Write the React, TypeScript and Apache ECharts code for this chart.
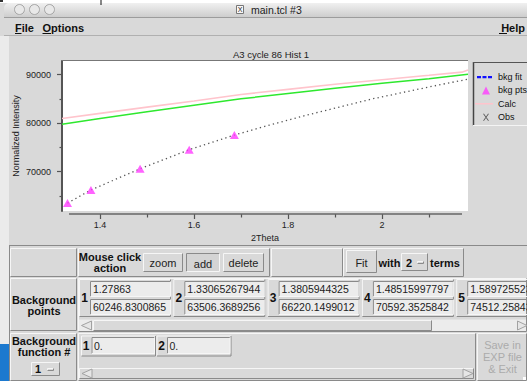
import React, { useEffect, useRef } from "react";
import * as echarts from "echarts";

const FONT = '"Liberation Sans", Helvetica, Arial, sans-serif';

// ---- chart data ----
const bkgPtsX = [1.27863, 1.33065267944, 1.3805944325, 1.48515997797, 1.589725523, 1.6858];
const bkgPtsY = [60246.8300865, 63506.3689256, 66220.1499012, 70592.3525842, 74512.25843, 77530];
const bkgFitX = [1.3307, 1.3806, 1.4852, 1.5897, 1.6858, 1.76, 1.84, 1.98, 2.12, 2.183];
const bkgFitY = [63506, 66220, 70592, 74512, 77530, 79580, 81650, 85000, 87850, 89050];
const obsX = [1.319, 1.4, 1.5, 1.6, 1.7, 1.8, 1.9, 2.0, 2.1, 2.183];
const obsY = [79770, 80950, 82350, 83700, 85000, 86100, 87200, 88200, 89150, 90050];
const calcX = [1.319, 1.4, 1.5, 1.6, 1.7, 1.8, 1.9, 2.0, 2.1, 2.17, 2.183];
const calcY = [80950, 82000, 83300, 84550, 85900, 86950, 88000, 88950, 89850, 90500, 90950];

const xMajorTicks = [1.4, 1.6, 1.8, 2.0];
const xMinorTicks = [1.5, 1.7, 1.9, 2.1];
const yMajorTicks = [70000, 80000, 90000];
const yMinorTicks = [65000, 75000, 85000];
const X_MIN = 1.319;
const X_MAX = 2.183;
const Y_MIN = 61880;
const Y_MAX = 92800;

const legendNames = ["bkg fit", "bkg pts", "Calc", "Obs"];
const bkgTermValues = ["0.", "0."];
const actionButtons = ["zoom", "add", "delete"];

// ---- GUI helpers ----
const BG = "#d9d9d9";
const LIGHT = "#f6f6f6";
const DARK = "#8a8a8a";
const ENTRY = "#ececec";

function rect(x: number, y: number, w: number, h: number, fill: any, extra: any = {}) {
  return { type: "rect", shape: { x, y, width: w, height: h, ...(extra.r ? { r: extra.r } : {}) }, style: { fill, ...(extra.stroke ? { stroke: extra.stroke, lineWidth: 1 } : {}) }, z: 10, silent: true };
}
function line(x1: number, y1: number, x2: number, y2: number, stroke: string, w = 1) {
  return { type: "line", shape: { x1, y1, x2, y2 }, style: { stroke, lineWidth: w }, z: 11, silent: true };
}
function box(x: number, y: number, w: number, h: number, kind: "raised" | "sunken", fill = BG) {
  const tl = kind === "raised" ? LIGHT : DARK;
  const br = kind === "raised" ? DARK : LIGHT;
  return [
    rect(x, y, w, h, fill),
    line(x + 0.5, y + 0.5, x + w - 0.5, y + 0.5, tl),
    line(x + 0.5, y + 0.5, x + 0.5, y + h - 0.5, tl),
    line(x + 0.5, y + h - 0.5, x + w - 0.5, y + h - 0.5, br),
    line(x + w - 0.5, y + 0.5, x + w - 0.5, y + h - 0.5, br),
  ];
}
function label(x: number, y: number, s: string, o: { size?: number; bold?: boolean; color?: string; align?: string } = {}) {
  const align = o.align || "left";
  return {
    type: "text",
    x,
    y,
    z: 12,
    silent: true,
    style: {
      text: s,
      fill: o.color || "#111",
      fontSize: o.size || 11,
      fontWeight: o.bold ? "bold" : "normal",
      fontFamily: FONT,
      align,
      textAlign: align,
      verticalAlign: "middle",
      textVerticalAlign: "middle",
    },
  };
}
function tri(points: number[][]) {
  return { type: "polygon", shape: { points }, style: { fill: "#e6e6e6", stroke: "#a2a2a2", lineWidth: 1 }, z: 12, silent: true };
}

function buildGui() {
  const g: any[] = [];
  // desktop / window chrome
  g.push(rect(0, 0, 527, 3, "#ffffff"));
  g.push(rect(0, 0, 3, 2, "#333333"));
  g.push(line(101, 0, 101, 5, "#111"));
  g.push(rect(0, 36, 9, 308, "#ebebeb"));
  g.push(rect(0, 344, 9, 37, "#1c79cf"));
  g.push(
    rect(4, 3, 523, 14, new echarts.graphic.LinearGradient(0, 0, 0, 1, [
      { offset: 0, color: "#f0f0f0" },
      { offset: 1, color: "#cdcdcd" },
    ]), { r: [5, 0, 0, 0] })
  );
  g.push(line(4, 17.5, 527, 17.5, "#9c9c9c"));
  [19.5, 34.5, 49.5].forEach((cx) =>
    g.push({ type: "circle", shape: { cx, cy: 9.5, r: 5 }, style: { fill: "#e8e8e8", stroke: "#a6a6a6", lineWidth: 1 }, z: 12, silent: true })
  );
  g.push(rect(236.5, 5.5, 7, 8, "#f8f8f8", { stroke: "#777" }));
  g.push(label(240, 9.8, "X", { size: 7, align: "center", color: "#222" }));
  g.push(label(251, 9.5, "main.tcl #3", { size: 10.5, color: "#222" }));
  // menu bar
  g.push(rect(4, 18, 523, 18, BG));
  g.push(line(4, 35.5, 527, 35.5, "#b0b0b0"));
  g.push(label(15, 27.5, "File", { bold: true }));
  g.push(line(15, 33.5, 21.5, 33.5, "#111"));
  g.push(label(42.5, 27.5, "Options", { bold: true }));
  g.push(line(42.5, 33.5, 51, 33.5, "#111"));
  g.push(label(525, 27.5, "Help", { bold: true, align: "right" }));
  g.push(line(499, 33.5, 507, 33.5, "#111"));

  // plot widget borders
  g.push(line(62, 60.5, 468, 60.5, "#777"));
  g.push(line(69, 214, 462, 214, "#666", 1.5));
  // legend box
  g.push(line(473.5, 62, 473.5, 125.5, "#444", 1.5));
  g.push(line(473, 62.5, 527, 62.5, "#555"));
  g.push(line(473, 125.5, 527, 125.5, "#f4f4f4"));

  // bottom panel
  g.push(line(9, 245.5, 527, 245.5, DARK));
  g.push(line(9.5, 245, 9.5, 381, DARK));
  // row 1
  g.push(...box(10, 248, 67, 29, "raised"));
  g.push(...box(78, 248, 192, 29, "raised"));
  g.push(label(110, 257.3, "Mouse click", { bold: true, align: "center" }));
  g.push(label(110, 268.3, "action", { bold: true, align: "center" }));
  const btn = [
    { x: 143, w: 40 },
    { x: 186, w: 34 },
    { x: 223, w: 41 },
  ];
  actionButtons.forEach((t, i) => {
    const pressed = t === "add";
    g.push(...box(btn[i].x, 253, btn[i].w, 19, pressed ? "sunken" : "raised", pressed ? "#d4d4d4" : BG));
    g.push(label(btn[i].x + btn[i].w / 2, pressed ? 264 : 262.7, t, { align: "center", color: "#222" }));
  });
  g.push(...box(271, 248, 72, 29, "raised"));
  g.push(...box(343, 248, 121, 29, "raised"));
  g.push(...box(346, 250, 31, 23, "raised"));
  g.push(label(361.5, 262.5, "Fit", { align: "center", color: "#222" }));
  g.push(label(378.5, 262.5, "with", { bold: true }));
  g.push(...box(401, 253, 27, 18, "raised"));
  g.push(label(409, 262.5, "2", { bold: true, align: "center" }));
  g.push(...box(417, 261, 7, 3, "raised"));
  g.push(label(430, 262.5, "terms", { bold: true }));

  // row 2: background points
  g.push(...box(10, 278, 67, 53, "raised"));
  g.push(label(44, 299.5, "Background", { bold: true, align: "center" }));
  g.push(label(44, 310.7, "points", { bold: true, align: "center" }));
  g.push(...box(78, 278, 449, 54, "raised"));
  for (let i = 1; i < bkgPtsX.length; i++) {
    const s = 79 + (i - 1) * 94.3;
    g.push(...box(s, 279, 92, 38, "raised"));
    g.push(label(s + 5.5, 298, String(i), { bold: true, align: "center", size: 12 }));
    g.push(...box(s + 11, 281, 81, 16, "sunken", ENTRY));
    g.push(label(s + 14, 289.3, String(bkgPtsX[i - 1]), { size: 10.5, color: "#222" }));
    g.push(...box(s + 11, 299, 81, 16, "sunken", ENTRY));
    g.push(label(s + 14, 307.3, String(bkgPtsY[i - 1]), { size: 10.5, color: "#222" }));
  }
  g.push(rect(79, 319.5, 448, 12, "#ececec"));
  g.push(...box(93, 320, 339, 11, "raised"));
  g.push(tri([[91.5, 321], [91.5, 330], [81.5, 325.5]]));
  g.push(tri([[517.5, 321], [517.5, 330], [527, 325.5]]));

  // row 3: background function
  g.push(...box(10, 333, 67, 48, "raised"));
  g.push(label(44, 341, "Background", { bold: true, align: "center" }));
  g.push(label(44, 352.3, "function #", { bold: true, align: "center" }));
  g.push(...box(31, 362, 29, 14, "raised"));
  g.push(label(38, 369, "1", { bold: true, align: "center" }));
  g.push(...box(47, 368, 7, 3, "raised"));
  g.push(...box(78, 333, 398, 48, "raised"));
  bkgTermValues.forEach((v, i) => {
    const s = 81 + i * 75.5;
    g.push(...box(s, 335.5, 75, 21, "raised"));
    g.push(label(s + 5, 345.5, String(i + 1), { bold: true, align: "center", size: 12 }));
    g.push(...box(s + 10.5, 337, 63.5, 17, "sunken", ENTRY));
    g.push(label(s + 13, 345.5, v, { size: 10.5, color: "#222" }));
  });
  g.push(...box(79, 368, 395, 11, "raised"));
  g.push(tri([[92, 369], [92, 378], [82, 373.5]]));
  g.push(tri([[463, 369], [463, 378], [473, 373.5]]));
  g.push(...box(477, 333, 50, 48, "raised"));
  g.push(label(502.5, 345, "Save in", { align: "center", color: "#ababab" }));
  g.push(label(502.5, 357, "EXP file", { align: "center", color: "#ababab" }));
  g.push(label(502.5, 369.3, "& Exit", { align: "center", color: "#ababab" }));
  g.push(rect(523, 377, 4, 4, "#ffffff"));
  return g;
}

const pair = (xs: number[], ys: number[]) => xs.map((x, i) => [x, ys[i]]);

const BOX = "M0,0h0.01v0.01h-0.01zM17.99,9.99h0.01v0.01h-0.01z";
const legendIcons: Record<string, { icon: string; color: string }> = {
  "bkg fit": { icon: "path://" + BOX + "M2,4h4v2.2h-4zM7.5,4h4v2.2h-4zM13,4h4v2.2h-4z", color: "#1010ff" },
  "bkg pts": { icon: "path://" + BOX + "M11,1L15,9H7Z", color: "#ff3cff" },
  Calc: { icon: "path://" + BOX + "M0,4.2h18v1.6h-18z", color: "#ffc4cc" },
  Obs: { icon: "path://" + BOX + "M8,1.5L9,1.5L14,8.5L13,8.5ZM13,1.5L14,1.5L9,8.5L8,8.5Z", color: "#555555" },
};

const axisLabelStyle = { fontSize: 9, color: "#222", fontFamily: FONT };
const plain = (v: number) => String(v);

export default function App() {
  const ref = useRef<HTMLDivElement>(null);
  useEffect(() => {
    if (!ref.current) return;
    const chart = echarts.init(ref.current, undefined, { renderer: "svg" });
    const xBase = { type: "value", min: X_MIN, max: X_MAX, position: "bottom", offset: 3, axisLine: { show: false }, splitLine: { show: false } };
    const yBase = { type: "value", min: Y_MIN, max: Y_MAX, position: "left", splitLine: { show: false } };
    chart.setOption({
      animation: false,
      backgroundColor: BG,
      title: {
        text: "A3 cycle 86 Hist 1",
        left: 228,
        top: 44,
        textStyle: { fontSize: 9.5, fontWeight: "normal", color: "#222", fontFamily: FONT },
      },
      grid: { left: 62, top: 61, width: 406, height: 150, show: true, backgroundColor: "#ffffff", borderWidth: 0, containLabel: false, outerBoundsMode: "none" },
      legend: {
        orient: "vertical",
        left: 470,
        top: 67,
        itemWidth: 18,
        itemHeight: 10,
        itemGap: 3.4,
        selectedMode: false,
        itemStyle: { borderWidth: 0 },
        textStyle: { fontSize: 9, color: "#111", fontFamily: FONT },
        data: legendNames.map((n) => ({ name: n, icon: legendIcons[n].icon, itemStyle: { color: legendIcons[n].color, borderWidth: 0 } })),
      },
      xAxis: [
        {
          ...xBase,
          name: "2Theta",
          nameLocation: "middle",
          nameGap: 19,
          nameTextStyle: axisLabelStyle,
          axisTick: { show: true, length: 5, customValues: xMajorTicks, lineStyle: { color: "#555", width: 1.2 } },
          axisLabel: { show: true, customValues: xMajorTicks, margin: 6, formatter: plain, ...axisLabelStyle },
        },
        {
          ...xBase,
          axisTick: { show: true, length: 3.5, customValues: xMinorTicks, lineStyle: { color: "#555", width: 1.2 } },
          axisLabel: { show: false },
        },
      ],
      yAxis: [
        {
          ...yBase,
          name: "Normalized Intensity",
          nameLocation: "middle",
          nameGap: 42,
          nameMoveOverlap: false,
          nameRotate: 90,
          nameTextStyle: axisLabelStyle,
          axisLine: { show: true, lineStyle: { color: "#555", width: 2 } },
          axisTick: { show: true, length: 5, customValues: yMajorTicks, lineStyle: { color: "#555", width: 1.2 } },
          axisLabel: { show: true, customValues: yMajorTicks, margin: 11, formatter: plain, ...axisLabelStyle },
        },
        {
          ...yBase,
          axisLine: { show: false },
          axisTick: { show: true, length: 2.5, customValues: yMinorTicks, lineStyle: { color: "#555", width: 1.2 } },
          axisLabel: { show: false },
        },
      ],
      series: [
        {
          name: "Calc",
          type: "line",
          data: pair(calcX, calcY),
          symbol: "none",
          clip: true,
          lineStyle: { color: "#ffc4cc", width: 1.6 },
          itemStyle: { color: "#ffc4cc" },
          z: 2,
        },
        {
          name: "Obs",
          type: "line",
          data: pair(obsX, obsY),
          symbol: "none",
          clip: true,
          lineStyle: { color: "#2ee82e", width: 1.5 },
          itemStyle: { color: "#2ee82e" },
          z: 3,
        },
        {
          name: "bkg fit",
          type: "line",
          data: pair(bkgFitX, bkgFitY),
          symbol: "none",
          clip: true,
          lineStyle: { color: "#555", width: 1.3, type: [1.3, 3.2] },
          itemStyle: { color: "#555" },
          z: 4,
        },
        {
          name: "bkg pts",
          type: "scatter",
          data: pair(bkgPtsX, bkgPtsY),
          symbol: "triangle",
          symbolSize: [9, 8],
          clip: true,
          itemStyle: { color: "#ff3cff" },
          z: 5,
        },
      ],
      graphic: { elements: buildGui() },
    });
    return () => chart.dispose();
  }, []);
  return <div ref={ref} style={{ position: "fixed", left: 0, top: 0, width: 527, height: 381 }} />;
}
